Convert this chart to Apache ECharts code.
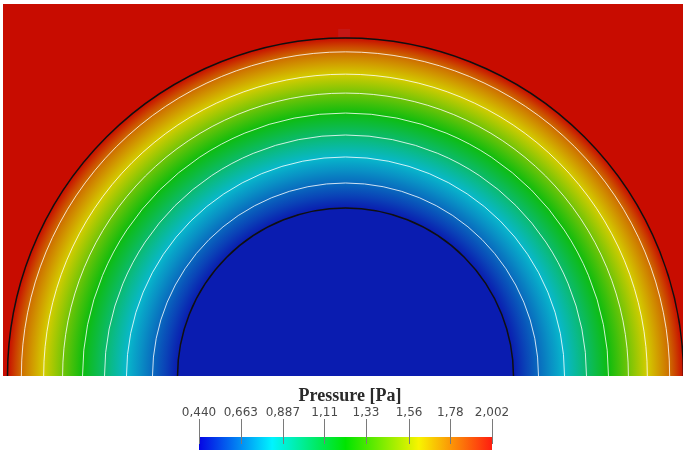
<!DOCTYPE html>
<html><head><meta charset="utf-8">
<script src="https://cdn.jsdelivr.net/npm/echarts@6/dist/echarts.min.js"></script>
<style>html,body{margin:0;padding:0;background:#fff}#c{width:683px;height:454px}</style>
</head><body><div id="c"></div><script>
// ---- data (radius normalised so that the outer boundary = 1) ----
const profileRadius   = [0.497, 0.571, 0.648, 0.713, 0.778, 0.837, 0.893, 0.959, 1.000];
const profilePressure = [0.440, 0.635, 0.830, 1.026, 1.221, 1.416, 1.612, 1.807, 2.002];
const contourRadius   = [0.571, 0.648, 0.713, 0.778, 0.837, 0.893, 0.959];
const contourLevel    = [0.635, 0.830, 1.026, 1.221, 1.416, 1.612, 1.807];
const boundaryRadius  = [0.497, 1.000];
const boundaryPressure= [0.440, 2.002];
const probePoint      = [[-0.004, 1.015]];
const tickValues      = [0.440, 0.663, 0.887, 1.11, 1.33, 1.56, 1.78, 2.002];
const tickLabels      = ['0,440', '0,663', '0,887', '1,11', '1,33', '1,56', '1,78', '2,002'];
const pMin = 0.440, pMax = 2.002;

// ---- styles ----
const fieldMap = [[0, [10, 28, 176]], [0.25, [8, 184, 204]], [0.5, [14, 188, 14]], [0.75, [212, 204, 0]], [1, [200, 12, 0]]];
const barMap   = [[0, [4, 4, 228]], [0.25, [0, 244, 255]], [0.5, [0, 228, 0]], [0.75, [248, 244, 0]], [1, [255, 30, 16]]];

function mapColor(map, p) {
  let t = (p - pMin) / (pMax - pMin);
  t = Math.max(0, Math.min(1, t));
  for (let i = 0; i < map.length - 1; i++) {
    const a = map[i], b = map[i + 1];
    if (t <= b[0]) {
      const f = (t - a[0]) / (b[0] - a[0]);
      const c = a[1].map((v, k) => Math.round(v + (b[1][k] - v) * f));
      return 'rgb(' + c.join(',') + ')';
    }
  }
  const l = map[map.length - 1][1];
  return 'rgb(' + l.join(',') + ')';
}

const chart = echarts.init(document.getElementById('c'), null, {renderer: 'canvas'});

function fieldItem(params, api) {
  const c = api.coord([0, 0]);
  const rMax = profileRadius[profileRadius.length - 1];
  const R = api.size([rMax, 0])[0];
  const stops = [];
  for (let i = 0; i < profileRadius.length; i++) {
    stops.push({offset: profileRadius[i] / rMax, color: mapColor(fieldMap, profilePressure[i])});
    if (i < profileRadius.length - 1) {
      for (let s = 1; s < 4; s++) {
        const f = s / 4;
        const r = profileRadius[i] + (profileRadius[i + 1] - profileRadius[i]) * f;
        const p = profilePressure[i] + (profilePressure[i + 1] - profilePressure[i]) * f;
        stops.push({offset: r / rMax, color: mapColor(fieldMap, p)});
      }
    }
  }
  const cs = params.coordSys;
  return {
    type: 'rect',
    shape: {x: cs.x, y: cs.y, width: cs.width, height: cs.height},
    style: {fill: {type: 'radial', x: c[0], y: c[1], r: R, global: true, colorStops: stops}}
  };
}

function arcItem(color, width) {
  return function (params, api) {
    const c = api.coord([0, 0]);
    const R = api.size([api.value(0), 0])[0];
    return {
      type: 'arc',
      shape: {cx: c[0], cy: c[1], r: R, startAngle: Math.PI, endAngle: 2 * Math.PI},
      style: {stroke: color, fill: 'none', lineWidth: width}
    };
  };
}

function barItem(params, api) {
  const p0 = api.coord([api.value(0), 1]);
  const p1 = api.coord([api.value(1), 0]);
  const stops = [];
  for (let i = 0; i <= 40; i++) {
    const p = pMin + (pMax - pMin) * i / 40;
    stops.push({offset: i / 40, color: mapColor(barMap, p)});
  }
  return {
    type: 'rect',
    shape: {x: p0[0], y: p0[1], width: p1[0] - p0[0], height: p1[1] - p0[1]},
    style: {fill: {type: 'linear', x: 0, y: 0, x2: 1, y2: 0, colorStops: stops}}
  };
}

chart.setOption({
  animation: false,
  backgroundColor: '#fff',
  title: {
    text: 'Pressure [Pa]',
    left: 345, top: 382, textAlign: 'center',
    textStyle: {fontFamily: 'Liberation Serif', fontWeight: 'bold', fontSize: 18, color: '#2a2a2a'}
  },
  grid: [
    {left: 3, right: 0, top: 4, bottom: 78},
    {left: 199, width: 293, top: 437, height: 13}
  ],
  xAxis: [
    {gridIndex: 0, type: 'value', min: -1.0133, max: 0.9985, show: false},
    {gridIndex: 1, type: 'value', min: pMin, max: pMax, position: 'top', offset: -6, z: 10,
      axisLine: {show: false}, splitLine: {show: false},
      axisTick: {show: true, customValues: tickValues, length: 25, lineStyle: {color: '#7a7a7a', width: 1}},
      axisLabel: {show: true, customValues: tickValues, margin: 24, showMinLabel: true, showMaxLabel: true,
        fontFamily: 'DejaVu Sans', fontSize: 12, color: '#4a4a4a',
        formatter: function (v) { let k = 0, d = 1e9; tickValues.forEach((t, i) => { if (Math.abs(t - v) < d) { d = Math.abs(t - v); k = i; } }); return tickLabels[k]; }}
    }
  ],
  yAxis: [
    {gridIndex: 0, type: 'value', min: 0, max: 1.1006, show: false},
    {gridIndex: 1, type: 'value', min: 0, max: 1, show: false}
  ],
  series: [
    {type: 'custom', name: 'field', xAxisIndex: 0, yAxisIndex: 0, clip: true, z: 1,
      data: [[0, 0]], renderItem: fieldItem},
    {type: 'custom', name: 'contours', xAxisIndex: 0, yAxisIndex: 0, clip: true, z: 2,
      data: contourRadius.map((r, i) => [r, contourLevel[i]]), renderItem: arcItem('rgba(255,255,255,0.8)', 1)},
    {type: 'custom', name: 'boundaries', xAxisIndex: 0, yAxisIndex: 0, clip: true, z: 3,
      data: boundaryRadius.map((r, i) => [r, boundaryPressure[i]]), renderItem: arcItem('#101010', 1.5)},
    {type: 'scatter', name: 'probe', xAxisIndex: 0, yAxisIndex: 0, z: 4,
      symbol: 'rect', symbolSize: [12, 8], itemStyle: {color: '#c41a1a'}, data: probePoint},
    {type: 'custom', name: 'colorbar', xAxisIndex: 1, yAxisIndex: 1, z: 1,
      data: [[pMin, pMax]], renderItem: barItem}
  ]
});
</script></body></html>
